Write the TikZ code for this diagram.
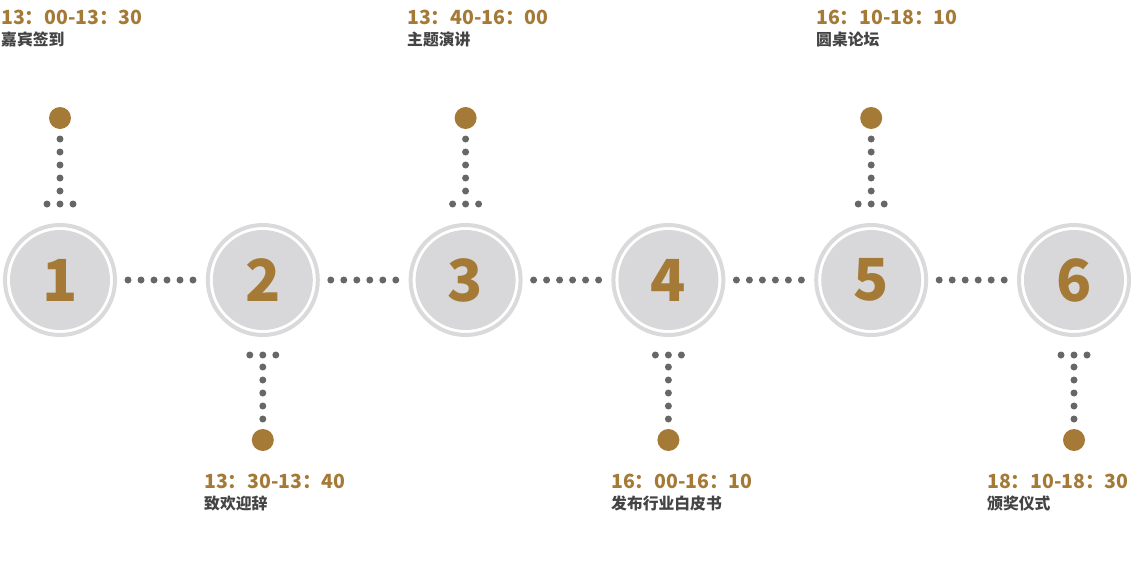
\documentclass[tikz,border=0pt]{standalone}
\usepackage{fontspec}
\setmainfont{Noto Sans CJK SC}
\usetikzlibrary{calc}
\definecolor{gold}{HTML}{A47A36}
\definecolor{dotc}{HTML}{676767}
\definecolor{diskc}{HTML}{D8D8DA}
\definecolor{ringc}{HTML}{DADADA}
\definecolor{labc}{HTML}{444444}
\tikzset{
  disk/.style={circle,fill=diskc,minimum size=100pt,inner sep=0pt,outer sep=0pt,
    text=gold,font=\fontsize{58pt}{58pt}\selectfont\bfseries},
  ring/.style={draw=ringc,line width=4pt},
  golddot/.style={circle,fill=gold,minimum size=22pt,inner sep=0pt,outer sep=0pt},
  dotline/.style={draw=dotc,line width=7pt,line cap=round,dash pattern=on 0pt off 13pt},
  timetxt/.style={anchor=base west,inner sep=0pt,text=gold,font=\fontsize{19.5pt}{22pt}\selectfont\bfseries},
  labtxt/.style={anchor=base west,inner sep=0pt,text=labc,font=\fontsize{15.8pt}{17pt}\selectfont\bfseries},
}
\begin{document}
\begin{tikzpicture}[x=1pt,y=-1pt]
\useasboundingbox (0,0) rectangle (1136,560);
% circles
\foreach \i/\cx in {1/60,2/262.8,3/465.6,4/668.4,5/871.2,6/1074}{
  \node[disk] (c\i) at (\cx,280) {\i};
  \draw[ring] (c\i.center) circle (55);
}
% horizontal connectors
\foreach \a/\b in {1/2,2/3,3/4,4/5,5/6}{
  \draw[dotline] ([xshift=18pt]c\a.east) -- ([xshift=-19.5pt]c\b.west);
}
% top branches (1,3,5)
\foreach \i in {1,3,5}{
  \node[golddot] (g\i) at ($(c\i.center)+(0,-162)$) {};
  \draw[dotline] ([yshift=-10pt]g\i.south) -- ([yshift=-62.5pt]g\i.south);
  \draw[dotline] ([xshift=-13pt,yshift=26pt]c\i.north) -- ([xshift=13.5pt,yshift=26pt]c\i.north);
}
% bottom branches (2,4,6)
\foreach \i in {2,4,6}{
  \node[golddot] (g\i) at ($(c\i.center)+(0,160)$) {};
  \draw[dotline] ([yshift=10pt]g\i.north) -- ([yshift=62.5pt]g\i.north);
  \draw[dotline] ([xshift=-13pt,yshift=-25pt]c\i.south) -- ([xshift=13.5pt,yshift=-25pt]c\i.south);
}
% texts
\node[timetxt] (t1) at (1,24) {13：00-13：30};
\node[labtxt] (l1) at (1,45) {嘉宾签到};
\node[timetxt] (t3) at (407,24) {13：40-16：00};
\node[labtxt] (l3) at (407,45) {主题演讲};
\node[timetxt] (t5) at (816,24) {16：10-18：10};
\node[labtxt] (l5) at (816,45) {圆桌论坛};
\node[timetxt] (t2) at (204,488) {13：30-13：40};
\node[labtxt] (l2) at (204,509) {致欢迎辞};
\node[timetxt] (t4) at (611,488) {16：00-16：10};
\node[labtxt] (l4) at (611,509) {发布行业白皮书};
\node[timetxt] (t6) at (987,488) {18：10-18：30};
\node[labtxt] (l6) at (987,509) {颁奖仪式};
\end{tikzpicture}
\end{document}
